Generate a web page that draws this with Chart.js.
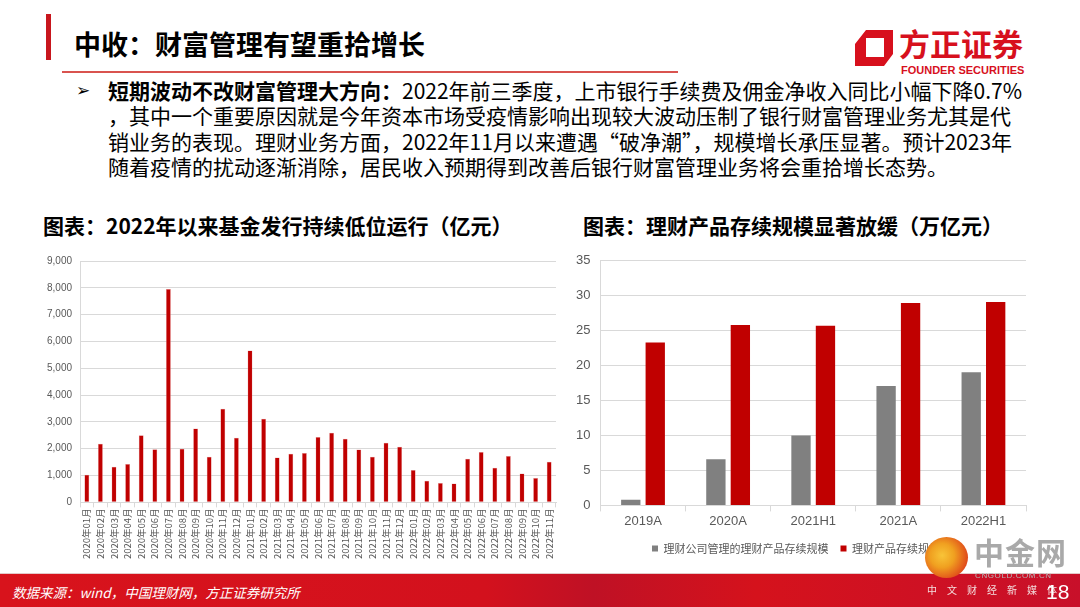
<!DOCTYPE html>
<html lang="zh">
<head>
<meta charset="UTF-8" />
<title>中收：财富管理有望重拾增长</title>
<script src="https://cdn.jsdelivr.net/npm/chart.js"></script>
<style>
    body {
        margin: 0;
        width: 1080px;
        height: 607px;
        position: relative;
        overflow: hidden;
        background: #ffffff;
        font-family: "Noto Sans CJK SC", sans-serif;
    }
    .abs { position: absolute; white-space: nowrap; }
    #redBar { left: 46px; top: 14px; width: 5px; height: 46px; background: #c8161d; }
    #title { left: 74px; top: 26px; font-size: 27px; font-weight: bold; color: #000; line-height: 36px; }
    #titleLine { left: 62px; top: 71px; width: 616px; height: 2px; background: #d9534f; }
    #logoMark { left: 855px; top: 30px; }
    #logoText { left: 899px; top: 25px; font-size: 31px; font-weight: bold; color: #d7101d; line-height: 36px; }
    #logoEn { left: 901px; top: 64px; font-size: 11px; font-weight: bold; color: #d7101d; line-height: 13px;
        font-family: "Liberation Sans Narrow", "Liberation Sans", sans-serif; }
    #bullet { left: 108px; top: 78px; font-size: 21px; line-height: 25.3px; color: #000; }
    #arrow { left: 76px; top: 80px; font-size: 17px; color: #000; font-family: "DejaVu Sans", sans-serif; font-weight: bold; }
    .ctitle { top: 210px; font-size: 21px; font-weight: bold; color: #000; line-height: 30px; }
    #leftBox { left: 36px; top: 247px; width: 530px; height: 313px; }
    #rightBox { left: 566px; top: 243px; width: 470px; height: 321px; }
    #footer { left: 0; top: 573px; width: 1080px; height: 34px;
        background: linear-gradient(90deg, #d8131c 0%, #d3111d 45%, #bf1125 55%, #d5121c 70%, #c8102a 100%);
        border-top: 1px solid #e3c9c9; }
    #source { left: 12px; top: 581px; font-size: 13.5px; font-style: italic; color: #fff; line-height: 22px; }
    #page { left: 1046px; top: 580px; font-size: 21px; color: #fff; font-family: "Liberation Sans", sans-serif; }
    #wmCircle { left: 925px; top: 537px; width: 43px; height: 41px; border-radius: 50%;
        background: radial-gradient(circle at 40% 45%, #f8c438 0%, #f0a020 35%, #e04a1a 75%, #d8301a 100%); }
    #wmText { left: 974px; top: 532px; font-size: 30px; font-weight: bold; color: #a9a9a9; line-height: 38px; letter-spacing: 1px; }
    #wmEn { left: 975px; top: 571px; font-size: 8px; color: #b8b8b8; font-family: "Liberation Sans", sans-serif; letter-spacing: 0.6px; }
    #wmCn { left: 927px; top: 583px; font-size: 10px; color: #f4dede; letter-spacing: 10px; line-height: 14px; }
</style>
</head>
<body>
<div class="abs" id="redBar"></div>
<div class="abs" id="title">中收：财富管理有望重拾增长</div>
<div class="abs" id="titleLine"></div>

<svg class="abs" id="logoMark" width="38" height="36" viewBox="0 0 38 36">
    <path fill-rule="evenodd" fill="#d7101d"
          d="M11,0 L38,0 L38,24 L29,36 L0,36 L0,14 Z M11,8 L29,8 L29,27 L11,27 Z" />
</svg>
<div class="abs" id="logoText">方正证券</div>
<div class="abs" id="logoEn">FOUNDER SECURITIES</div>

<div class="abs" id="arrow">➢</div>
<div class="abs" id="bullet">
    <div><b>短期波动不改财富管理大方向：</b>2022年前三季度，上市银行手续费及佣金净收入同比小幅下降0.7%</div>
    <div>，其中一个重要原因就是今年资本市场受疫情影响出现较大波动压制了银行财富管理业务尤其是代</div>
    <div>销业务的表现。理财业务方面，2022年11月以来遭遇“破净潮”，规模增长承压显著。预计2023年</div>
    <div>随着疫情的扰动逐渐消除，居民收入预期得到改善后银行财富管理业务将会重拾增长态势。</div>
</div>

<div class="abs ctitle" style="left:43px">图表：2022年以来基金发行持续低位运行（亿元）</div>
<div class="abs ctitle" style="left:583px">图表：理财产品存续规模显著放缓（万亿元）</div>

<div class="abs" id="leftBox"><canvas id="fundChart"></canvas></div>
<div class="abs" id="rightBox"><canvas id="wealthChart"></canvas></div>

<div class="abs" id="footer"></div>
<div class="abs" id="source">数据来源：wind，中国理财网，方正证券研究所</div>
<div class="abs" id="wmCircle"></div>
<div class="abs" id="wmText">中金网</div>
<div class="abs" id="wmEn">CNGOLD.COM.CN</div>
<div class="abs" id="wmCn">中文财经新媒体</div>
<div class="abs" id="page">18</div>

<script>
    // 基金发行（亿元），2020年01月 - 2022年11月
    const fundMonths = [
        "2020年01月", "2020年02月", "2020年03月", "2020年04月", "2020年05月", "2020年06月",
        "2020年07月", "2020年08月", "2020年09月", "2020年10月", "2020年11月", "2020年12月",
        "2021年01月", "2021年02月", "2021年03月", "2021年04月", "2021年05月", "2021年06月",
        "2021年07月", "2021年08月", "2021年09月", "2021年10月", "2021年11月", "2021年12月",
        "2022年01月", "2022年02月", "2022年03月", "2022年04月", "2022年05月", "2022年06月",
        "2022年07月", "2022年08月", "2022年09月", "2022年10月", "2022年11月"
    ];
    const fundIssuance = [
        1030, 2190, 1330, 1430, 2500, 1980,
        7960, 2000, 2750, 1700, 3490, 2410,
        5660, 3120, 1675, 1810, 1840, 2440,
        2600, 2375, 1975, 1700, 2225, 2075,
        1210, 810, 725, 700, 1625, 1875,
        1290, 1725, 1075, 910, 1510
    ];
    const fundTicks = [0, 1000, 2000, 3000, 4000, 5000, 6000, 7000, 8000, 9000];

    // 理财产品存续规模（万亿元）
    const periods = ["2019A", "2020A", "2021H1", "2021A", "2022H1"];
    const companyScale = [0.8, 6.6, 10.0, 17.1, 19.05];
    const totalScale = [23.3, 25.8, 25.7, 28.95, 29.1];
    const wealthTicks = [0, 5, 10, 15, 20, 25, 30, 35];

    const gridColor = "#d9d9d9";
    const tickColor = "#595959";

    new Chart(document.getElementById("fundChart"), {
        type: "bar",
        data: {
            labels: fundMonths,
            datasets: [{
                label: "基金发行",
                data: fundIssuance,
                backgroundColor: "#c00000",
                borderColor: "#e8a0a0",
                borderWidth: 0.5,
                barPercentage: 0.36,
                categoryPercentage: 1.0
            }]
        },
        options: {
            responsive: true,
            maintainAspectRatio: false,
            animation: false,
            layout: { padding: { top: 4, right: 10, left: 3, bottom: 0 } },
            plugins: { legend: { display: false }, tooltip: { enabled: false } },
            scales: {
                x: {
                    grid: { display: true, drawOnChartArea: false, color: gridColor, tickLength: 5, offset: true },
                    border: { color: gridColor },
                    ticks: {
                        color: tickColor, autoSkip: false, minRotation: 90, maxRotation: 90,
                        font: { size: 9.5, family: "Noto Sans CJK SC" }, padding: 1
                    }
                },
                y: {
                    min: 0, max: 9000,
                    afterBuildTicks: axis => { axis.ticks = fundTicks.map(v => ({ value: v })); },
                    grid: { color: gridColor, drawTicks: false },
                    border: { color: gridColor },
                    ticks: {
                        color: tickColor, padding: 8,
                        font: { size: 10, family: "Liberation Sans" },
                        callback: v => v.toLocaleString("en-US")
                    }
                }
            }
        }
    });

    new Chart(document.getElementById("wealthChart"), {
        type: "bar",
        data: {
            labels: periods,
            datasets: [{
                label: "理财公司管理的理财产品存续规模",
                data: companyScale,
                backgroundColor: "#808080",
                barPercentage: 0.79,
                categoryPercentage: 0.575
            }, {
                label: "理财产品存续规模",
                data: totalScale,
                backgroundColor: "#c00000",
                barPercentage: 0.79,
                categoryPercentage: 0.575
            }]
        },
        options: {
            responsive: true,
            maintainAspectRatio: false,
            animation: false,
            layout: { padding: { top: 4, right: 10, left: 0, bottom: 0 } },
            plugins: {
                tooltip: { enabled: false },
                legend: {
                    position: "bottom",
                    labels: {
                        boxWidth: 6, boxHeight: 6, padding: 12, color: tickColor,
                        font: { size: 11, family: "Noto Sans CJK SC" }
                    }
                }
            },
            scales: {
                x: {
                    grid: { display: true, drawOnChartArea: false, color: gridColor, tickLength: 6, offset: true },
                    border: { color: gridColor },
                    ticks: { color: tickColor, font: { size: 13, family: "Liberation Sans" }, padding: 2 }
                },
                y: {
                    min: 0, max: 35,
                    afterBuildTicks: axis => { axis.ticks = wealthTicks.map(v => ({ value: v })); },
                    grid: { color: gridColor, drawTicks: false },
                    border: { color: gridColor },
                    ticks: { color: tickColor, padding: 10, font: { size: 13, family: "Liberation Sans" } }
                }
            }
        }
    });
</script>
</body>
</html>
